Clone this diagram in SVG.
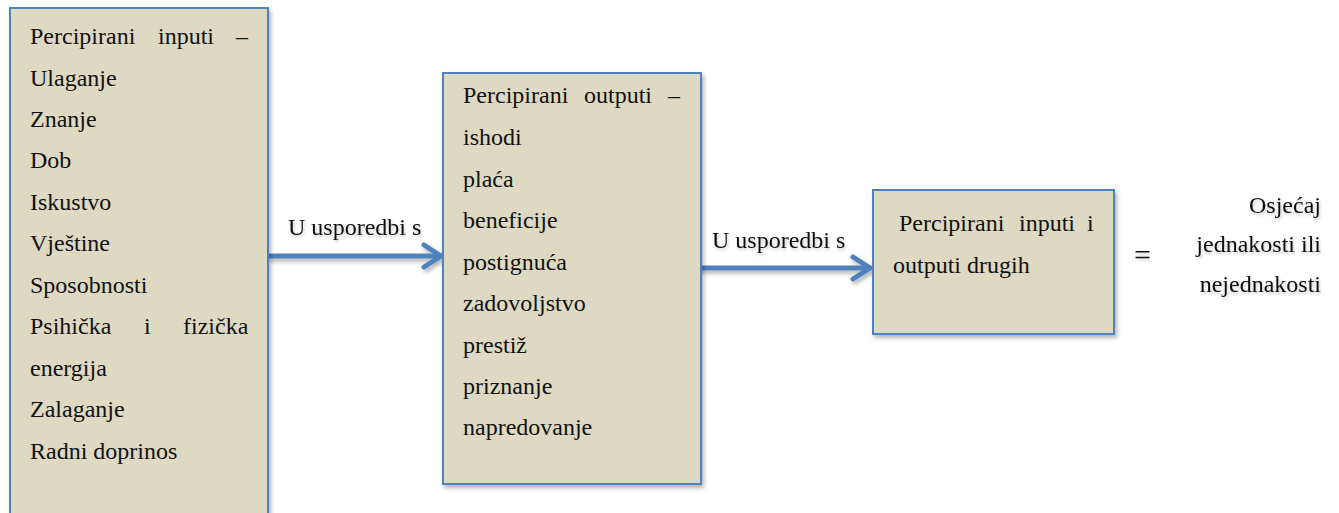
<svg xmlns="http://www.w3.org/2000/svg" width="1339" height="513" viewBox="0 0 1339 513">
<style>
  .box { fill: #DDD9C3; stroke: #4F81BD; stroke-width: 2; }
  .con { fill: none; stroke: #4F81BD; stroke-width: 5; stroke-linecap: round; stroke-linejoin: round; }
</style>
<defs>
  <filter id="sh" x="-10%" y="-10%" width="130%" height="130%">
    <feDropShadow dx="2" dy="3" stdDeviation="2" flood-color="#000" flood-opacity="0.3"/>
  </filter>
  <filter id="tsh" x="-10%" y="-30%" width="130%" height="160%">
    <feDropShadow dx="1" dy="2" stdDeviation="1.5" flood-color="#000" flood-opacity="0.22"/>
  </filter>
</defs>
<rect width="1339" height="513" fill="#fff"/>

<g id="connectors" filter="url(#sh)">
  <path class="con" d="M268,256 H440"/>
  <path class="con" d="M424,245 L441,256 L424,267"/>
  <path class="con" d="M700,268 H870"/>
  <path class="con" d="M853,257 L870,268 L853,279"/>
</g>

<g id="label1" font-family="'Liberation Serif', 'Times New Roman', serif" font-size="24" fill="#111" filter="url(#tsh)">
  <text x="288" y="235">U usporedbi s</text>
</g>
<g id="label2" font-family="'Liberation Serif', 'Times New Roman', serif" font-size="24" fill="#111" filter="url(#tsh)">
  <text x="712" y="248">U usporedbi s</text>
</g>

<g id="inputs">
  <rect class="box" x="10" y="8" width="258" height="520" filter="url(#sh)"/>
  <g font-family="'Liberation Serif', 'Times New Roman', serif" font-size="24" fill="#111">
    <text x="30" y="44">Percipirani</text>
    <text x="158" y="44">inputi</text>
    <text x="236" y="44">–</text>
    <text x="30" y="86">Ulaganje</text>
    <text x="30" y="127">Znanje</text>
    <text x="30" y="168">Dob</text>
    <text x="30" y="210">Iskustvo</text>
    <text x="30" y="251">Vještine</text>
    <text x="30" y="293">Sposobnosti</text>
    <text x="30" y="334">Psihička</text>
    <text x="144" y="334">i</text>
    <text x="183" y="334">fizička</text>
    <text x="30" y="376">energija</text>
    <text x="30" y="417">Zalaganje</text>
    <text x="30" y="459">Radni doprinos</text>
  </g>
</g>

<g id="outputs">
  <rect class="box" x="443" y="73" width="258" height="411" filter="url(#sh)"/>
  <g font-family="'Liberation Serif', 'Times New Roman', serif" font-size="24" fill="#111">
    <text x="463" y="103">Percipirani</text>
    <text x="584" y="103">outputi</text>
    <text x="668" y="103">–</text>
    <text x="463" y="145">ishodi</text>
    <text x="463" y="187">plaća</text>
    <text x="463" y="228">beneficije</text>
    <text x="463" y="270">postignuća</text>
    <text x="463" y="311">zadovoljstvo</text>
    <text x="463" y="353">prestiž</text>
    <text x="463" y="394">priznanje</text>
    <text x="463" y="435">napredovanje</text>
  </g>
</g>

<g id="others">
  <rect class="box" x="873" y="190" width="241" height="144" filter="url(#sh)"/>
  <g font-family="'Liberation Serif', 'Times New Roman', serif" font-size="24" fill="#111">
    <text x="899" y="231">Percipirani</text>
    <text x="1019" y="231">inputi</text>
    <text x="1087" y="231">i</text>
    <text x="893" y="273">outputi drugih</text>
  </g>
</g>

<g id="equals" font-family="'Liberation Serif', 'Times New Roman', serif" font-size="30" fill="#111" filter="url(#tsh)">
  <text x="1134" y="265">=</text>
</g>

<g id="result" font-family="'Liberation Serif', 'Times New Roman', serif" font-size="24" fill="#111" filter="url(#tsh)" text-anchor="end">
  <text x="1321" y="213">Osjećaj</text>
  <text x="1321" y="252">jednakosti ili</text>
  <text x="1321" y="292">nejednakosti</text>
</g>
</svg>
